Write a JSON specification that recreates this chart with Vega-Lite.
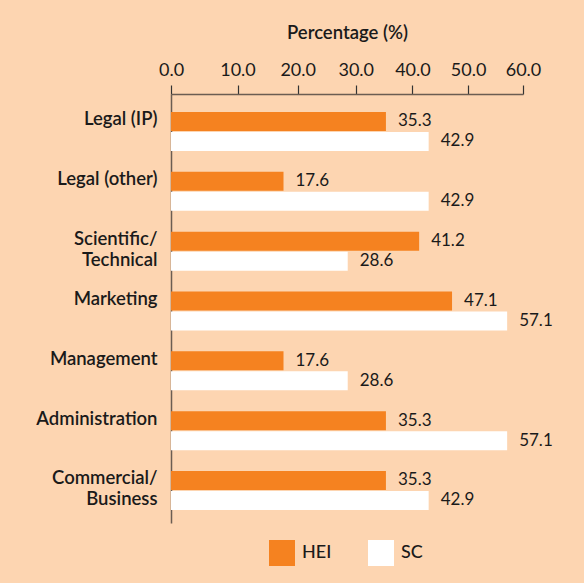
{
  "$schema": "https://vega.github.io/schema/vega-lite/v6.json",
  "width": 352,
  "height": 429,
  "autosize": "none",
  "padding": {"left": 171, "top": 94, "right": 61, "bottom": 60},
  "background": "#FDD5B1",
  "config": {"view": {"stroke": null}, "font": "Lato"},
  "data": {
    "values": [
      {"category": "Legal (IP)", "series": "HEI", "value": 35.3},
      {"category": "Legal (IP)", "series": "SC", "value": 42.9},
      {"category": "Legal (other)", "series": "HEI", "value": 17.6},
      {"category": "Legal (other)", "series": "SC", "value": 42.9},
      {"category": "Scientific/Technical", "series": "HEI", "value": 41.2},
      {"category": "Scientific/Technical", "series": "SC", "value": 28.6},
      {"category": "Marketing", "series": "HEI", "value": 47.1},
      {"category": "Marketing", "series": "SC", "value": 57.1},
      {"category": "Management", "series": "HEI", "value": 17.6},
      {"category": "Management", "series": "SC", "value": 28.6},
      {"category": "Administration", "series": "HEI", "value": 35.3},
      {"category": "Administration", "series": "SC", "value": 57.1},
      {"category": "Commercial/Business", "series": "HEI", "value": 35.3},
      {"category": "Commercial/Business", "series": "SC", "value": 42.9}
    ]
  },
  "encoding": {
    "y": {
      "field": "category",
      "type": "nominal",
      "sort": ["Legal (IP)", "Legal (other)", "Scientific/Technical", "Marketing", "Management", "Administration", "Commercial/Business"],
      "scale": {"paddingInner": 0.348, "paddingOuter": 0.259, "align": 0.58},
      "axis": {
        "title": null,
        "ticks": false,
        "domain": true,
        "domainColor": "#6b5d52",
        "domainWidth": 1.5,
        "labelPadding": 14,
        "labelFontSize": 18.5,
        "labelFontWeight": 600,
        "labelColor": "#1a1a1a",
        "labelBaseline": "top",
        "labelOffset": -21,
        "labelLineHeight": 21,
        "labelOverlap": false,
        "labelBound": false,
        "labelLimit": 200,
        "labelExpr": "datum.value == 'Scientific/Technical' ? ['Scientific/', 'Technical'] : datum.value == 'Commercial/Business' ? ['Commercial/', 'Business'] : datum.value"
      }
    },
    "yOffset": {"field": "series", "sort": ["HEI", "SC"], "scale": {"paddingInner": 0.05}},
    "x": {
      "field": "value",
      "type": "quantitative",
      "scale": {"type": "pow", "exponent": 0.93, "domain": [0, 60]},
      "axis": {
        "orient": "top",
        "title": "Percentage (%)",
        "titleFontSize": 18.5,
        "titleFontWeight": 600,
        "titleColor": "#1a1a1a",
        "titlePadding": 19,
        "values": [0, 10, 20, 30, 40, 50, 60],
        "format": ".1f",
        "labelFontSize": 18,
        "labelColor": "#1a1a1a",
        "labelPadding": 6,
        "labelFlush": false,
        "labelOverlap": false,
        "tickSize": 9,
        "tickColor": "#333333",
        "tickWidth": 1.2,
        "domainColor": "#6b5d52",
        "domainWidth": 1.5,
        "grid": false
      }
    }
  },
  "layer": [
    {
      "mark": {"type": "bar"},
      "encoding": {
        "color": {
          "field": "series",
          "type": "nominal",
          "scale": {"domain": ["HEI", "SC"], "range": ["#F58220", "#FFFFFF"]},
          "legend": {
            "title": null,
            "orient": "none",
            "legendX": 98,
            "legendY": 446,
            "direction": "horizontal",
            "symbolType": "square",
            "symbolSize": 676,
            "symbolStrokeWidth": 0,
            "symbolOpacity": 1,
            "labelFontSize": 18,
            "labelFontWeight": 500,
            "labelColor": "#1a1a1a",
            "labelOffset": 7,
            "columnPadding": 36
          }
        }
      }
    },
    {
      "mark": {"type": "text", "align": "left", "baseline": "middle", "dx": 12, "fontSize": 17, "color": "#1a1a1a"},
      "encoding": {"text": {"field": "value", "type": "quantitative", "format": ".1f"}}
    }
  ]
}
